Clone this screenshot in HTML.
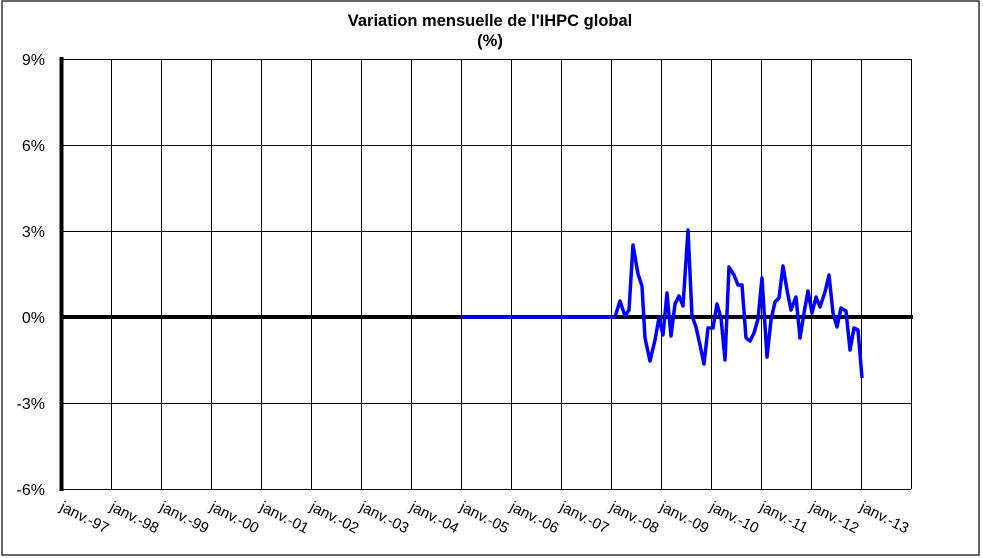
<!DOCTYPE html>
<html><head><meta charset="utf-8"><style>
body{margin:0;background:#fff;}
svg{display:block;font-family:"Liberation Sans",Arial,sans-serif;}
</style></head><body>
<svg width="983" height="558" viewBox="0 0 983 558">
<rect x="0" y="0" width="983" height="558" fill="#fff"/>
<rect x="2" y="1" width="977" height="554" fill="none" stroke="#333" stroke-width="1.5"/>
<text x="490" y="26" font-size="16.5" font-weight="bold" text-anchor="middle">Variation mensuelle de l'IHPC global</text>
<text x="490" y="46" font-size="16.5" font-weight="bold" text-anchor="middle">(%)</text>
<g stroke="#000" stroke-width="1">
<line x1="61" y1="59.5" x2="911" y2="59.5"/>
<line x1="61" y1="145.5" x2="911" y2="145.5"/>
<line x1="61" y1="231.5" x2="911" y2="231.5"/>
<line x1="61" y1="403.5" x2="911" y2="403.5"/>
<line x1="61" y1="489.5" x2="911" y2="489.5"/>
<line x1="111.5" y1="59" x2="111.5" y2="489"/><line x1="161.5" y1="59" x2="161.5" y2="489"/>
<line x1="211.5" y1="59" x2="211.5" y2="489"/><line x1="261.5" y1="59" x2="261.5" y2="489"/>
<line x1="311.5" y1="59" x2="311.5" y2="489"/><line x1="361.5" y1="59" x2="361.5" y2="489"/>
<line x1="411.5" y1="59" x2="411.5" y2="489"/><line x1="461.5" y1="59" x2="461.5" y2="489"/>
<line x1="511.5" y1="59" x2="511.5" y2="489"/><line x1="561.5" y1="59" x2="561.5" y2="489"/>
<line x1="611.5" y1="59" x2="611.5" y2="489"/><line x1="661.5" y1="59" x2="661.5" y2="489"/>
<line x1="711.5" y1="59" x2="711.5" y2="489"/><line x1="761.5" y1="59" x2="761.5" y2="489"/>
<line x1="811.5" y1="59" x2="811.5" y2="489"/><line x1="861.5" y1="59" x2="861.5" y2="489"/>
<line x1="911.5" y1="59" x2="911.5" y2="489"/>
</g>
<line x1="61" y1="317" x2="913" y2="317" stroke="#000" stroke-width="4"/>
<line x1="61.5" y1="57" x2="61.5" y2="491" stroke="#000" stroke-width="4"/>
<g font-size="16" text-anchor="end">
<text x="45" y="65">9%</text><text x="45" y="151">6%</text><text x="45" y="237">3%</text>
<text x="45" y="323">0%</text><text x="45" y="409">-3%</text><text x="45" y="495">-6%</text>
</g>
<g font-size="15">
<text transform="translate(59,510) rotate(27)">janv.-97</text>
<text transform="translate(109,510) rotate(27)">janv.-98</text>
<text transform="translate(159,510) rotate(27)">janv.-99</text>
<text transform="translate(209,510) rotate(27)">janv.-00</text>
<text transform="translate(259,510) rotate(27)">janv.-01</text>
<text transform="translate(309,510) rotate(27)">janv.-02</text>
<text transform="translate(359,510) rotate(27)">janv.-03</text>
<text transform="translate(409,510) rotate(27)">janv.-04</text>
<text transform="translate(459,510) rotate(27)">janv.-05</text>
<text transform="translate(509,510) rotate(27)">janv.-06</text>
<text transform="translate(559,510) rotate(27)">janv.-07</text>
<text transform="translate(609,510) rotate(27)">janv.-08</text>
<text transform="translate(659,510) rotate(27)">janv.-09</text>
<text transform="translate(709,510) rotate(27)">janv.-10</text>
<text transform="translate(759,510) rotate(27)">janv.-11</text>
<text transform="translate(809,510) rotate(27)">janv.-12</text>
<text transform="translate(859,510) rotate(27)">janv.-13</text>
</g>
<polyline fill="none" stroke="#0000ff" stroke-width="3.5" stroke-linejoin="round" points="461,317 615,317 620,301 625,316 629,310 633,245 638,274 642,286 645,338 650,361 655,340 659,318 663,335 667,293 671,336 675,304 679,296 683,306 688,230 692,316 696,327 700,345 704,364 708,328 713,328 717,304 721,318 725,360 729,267 734,275 738,285 742,285 746,338 750,341 754,333 758,319 762,278 767,357 771,320 775,302 779,298 783,266 787,290 791,310 796,297 800,338 804,313 808,291 812,313 816,297 820,307 825,292 829,275 833,313 837,327 841,308 846,311 850,350 854,328 858,330 862,378"/>
</svg>
</body></html>
